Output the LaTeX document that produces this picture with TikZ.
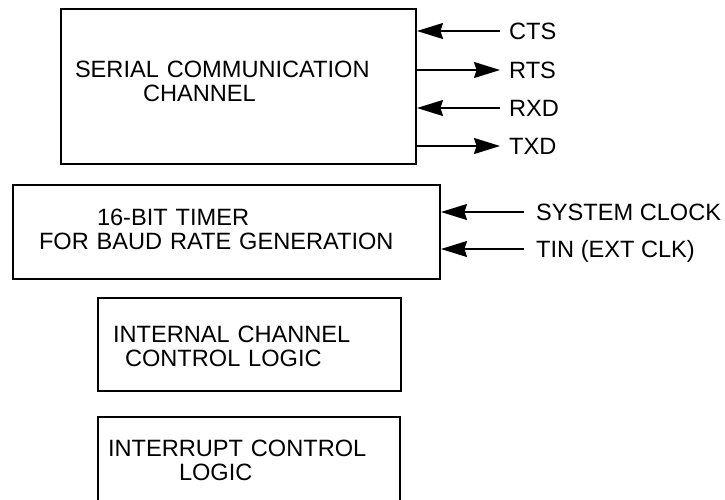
\documentclass[tikz,border=0pt]{standalone}
\usepackage{fontspec}
\setmainfont{Liberation Sans}
\usetikzlibrary{arrows.meta, positioning, calc}

\newcommand{\blkfont}{\fontsize{23.6}{24}\selectfont}

\begin{document}
\begin{tikzpicture}[
		x=1pt, y=-1pt,
		% Estilos de bloques y de señales
		block/.style = {draw, rectangle, line width=2pt, inner xsep=0pt, inner ysep=0pt, align=left, text height=16.8pt, font=\blkfont},
		sig/.style = {line width=1.3pt},
		sig_lbl/.style = {inner sep=0pt, text height=16.8pt, text depth=0pt, font=\blkfont},
		>={Stealth[length=26pt, width=16pt, inset=2.5pt]}
		]
		\useasboundingbox (0,0) rectangle (725,499);
		
		% --- BLOQUES ---
		% Canal de comunicacion serie
		\node [block, text width=355pt, text depth=35.8pt, minimum height=155pt] (scc) at (238.5,86.5)
			{\hspace*{14pt}SERIAL COMMUNICATION\\\hspace*{82pt}CHANNEL};
		
		% Temporizador de 16 bits
		\node [block, text width=427pt, text depth=30.8pt, minimum height=94pt] (timer) at (226.5,232)
			{\hspace*{84pt}16-BIT TIMER\\\hspace*{26pt}FOR BAUD RATE GENERATION};
		
		% Logica de control interna
		\node [block, text width=303pt, text depth=21.8pt, minimum height=93pt] (ctrl) at (249.5,344.5)
			{\hspace*{15pt}INTERNAL CHANNEL\\\hspace*{27pt}CONTROL LOGIC};
		
		% Logica de interrupciones (cortada por el borde inferior)
		\node [block, text width=302pt, text depth=24.8pt, minimum height=86pt] (irq) at (249,460)
			{\hspace*{10pt}INTERRUPT CONTROL\\\hspace*{81pt}LOGIC};
		
		% --- SEÑALES DEL CANAL SERIE ---
		\coordinate (cts_end) at (500,31);
		\coordinate (rts_end) at (500,70);
		\coordinate (rxd_end) at (500,108);
		\coordinate (txd_end) at (500,146);
		\node [sig_lbl, right=9pt of cts_end] (cts) {CTS};
		\node [sig_lbl, right=9pt of rts_end] (rts) {RTS};
		\node [sig_lbl, right=9pt of rxd_end] (rxd) {RXD};
		\node [sig_lbl, right=9pt of txd_end] (txd) {TXD};
		
		\draw [sig, ->] (cts_end) -- (scc.east |- cts_end);
		\draw [sig, ->] (scc.east |- rts_end) -- (rts_end);
		\draw [sig, ->] (rxd_end) -- (scc.east |- rxd_end);
		\draw [sig, ->] (scc.east |- txd_end) -- (txd_end);
		
		% --- RELOJES DEL TEMPORIZADOR ---
		\coordinate (clk_end) at (524,212);
		\coordinate (tin_end) at (524,249);
		\node [sig_lbl, right=12pt of clk_end] (clk) {SYSTEM CLOCK};
		\node [sig_lbl, right=12pt of tin_end] (tin) {TIN (EXT CLK)};
		
		\draw [sig, ->] (clk_end) -- (timer.east |- clk_end);
		\draw [sig, ->] (tin_end) -- (timer.east |- tin_end);
		
	\end{tikzpicture}
\end{document}
